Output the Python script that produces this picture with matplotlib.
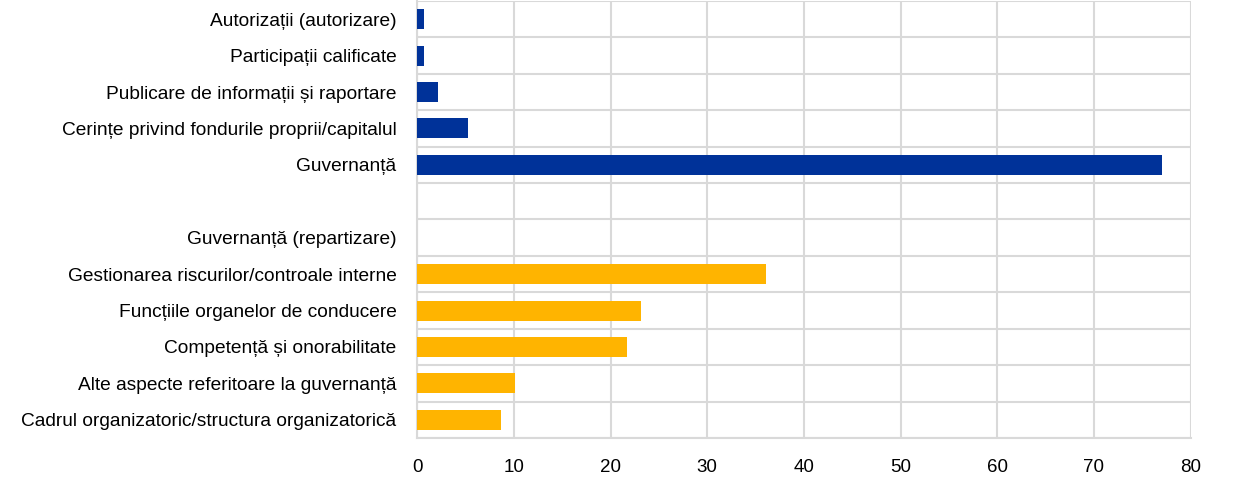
# ---   IMPORTS   --- #
import numpy as np
import matplotlib
matplotlib.use('Agg')
import matplotlib.pyplot as plt

# ---   DATA   --- #
# Categories from top to bottom ('' is the empty spacer row)
LABELS = [
    'Autorizații (autorizare)',
    'Participații calificate',
    'Publicare de informații și raportare',
    'Cerințe privind fondurile proprii/capitalul',
    'Guvernanță',
    '',
    'Guvernanță (repartizare)',
    'Gestionarea riscurilor/controale interne',
    'Funcțiile organelor de conducere',
    'Competență și onorabilitate',
    'Alte aspecte referitoare la guvernanță',
    'Cadrul organizatoric/structura organizatorică',
]
VALUES = [0.7, 0.7, 2.1, 5.25, 77.0, 0, 0, 36.1, 23.1, 21.7, 10.1, 8.7]
GROUP = ['top'] * 6 + ['gov'] * 6
XTICKS = [0, 10, 20, 30, 40, 50, 60, 70, 80]

BLUE = '#003299'
YELLOW = '#FFB400'
GRID = '#d9d9d9'

# ---   MAIN   --- #
if __name__ == '__main__':
    plt.rcParams['font.family'] = ['Liberation Sans', 'DejaVu Sans']
    fig = plt.figure(figsize=(12.4, 4.78), dpi=100)
    ax = fig.add_axes([0.3365, 0.0837, 0.6236, 0.9143])

    y = np.arange(len(LABELS))
    colors = [BLUE if g == 'top' else YELLOW for g in GROUP]
    ax.barh(y, VALUES, height=0.55, color=colors, zorder=3)

    # Axes formatting
    ax.set_ylim(len(LABELS) - 0.5, -0.5)
    ax.set_xlim(0, 80)
    ax.set_yticks(y)
    ax.set_yticklabels(LABELS, fontsize=13.8)
    ax.set_xticks(XTICKS)
    ax.tick_params(axis='x', labelsize=13.5, length=0, pad=15)
    ax.tick_params(axis='y', length=0, pad=15)
    ax.set_yticks(np.arange(-0.5, len(LABELS), 1), minor=True)
    ax.tick_params(axis='y', which='minor', length=0)
    ax.grid(axis='x', which='major', color=GRID, lw=1.5, zorder=0)
    ax.grid(axis='y', which='minor', color=GRID, lw=1.5, zorder=0)
    ax.set_axisbelow(True)
    for side in ['top', 'right']:
        ax.spines[side].set_visible(False)
    for side in ['left', 'bottom']:
        ax.spines[side].set_color(GRID)
        ax.spines[side].set_linewidth(1.5)

    plt.savefig('out.png', dpi=100)
